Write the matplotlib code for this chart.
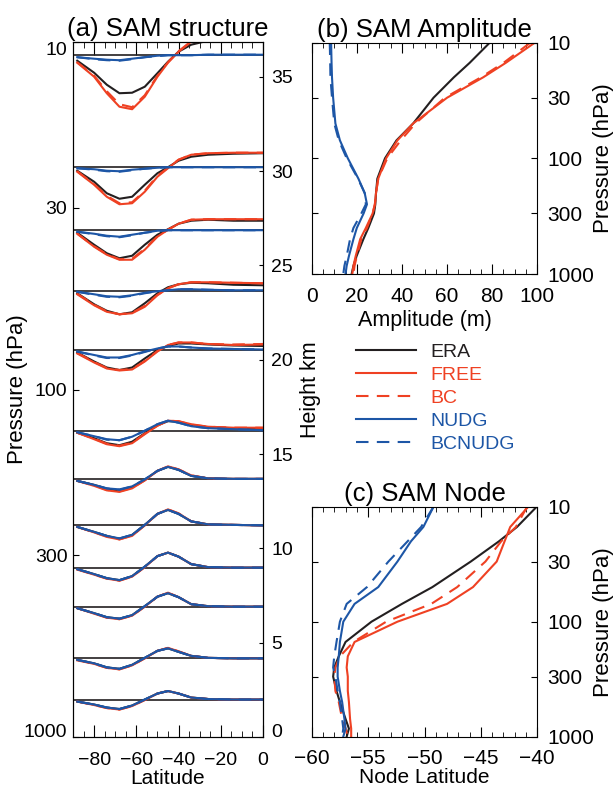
import matplotlib
matplotlib.use("Agg")
import matplotlib.pyplot as plt
from matplotlib.lines import Line2D
from matplotlib.ticker import MultipleLocator, NullLocator

plt.rcParams['font.family'] = ['Liberation Sans', 'DejaVu Sans']

# DATA

# (a) SAM structure: anomaly (m) vs latitude at each level (baseline height km)
LAT_A = [-88, -80, -74, -68, -62, -56, -50, -45, -40, -34, -26, -14, 0]
LEVEL_KM = [36.15, 30.21, 26.87, 23.66, 20.52, 16.24, 13.66, 11.22, 8.98, 6.91, 4.17, 1.96]

ERA_A = [
    [-11, -35, -59, -76, -75, -63, -36, -13, 7, 21, 29, 40, 46],
    [-7, -29, -52, -63, -59, -35, -12, 0, 13, 21, 25, 27, 28],
    [-5, -29, -46, -56, -51, -29, -9, 2, 13, 19, 21, 19, 19],
    [-5, -27, -40, -47, -43, -25, -5, 7, 13, 16, 15, 12, 11],
    [-5, -23, -35, -40, -35, -17, 0, 8, 13, 13, 11, 9, 8],
    [-4, -15, -25, -29, -22, -5, 11, 19, 18, 11, 7, 5, 5],
    [-3, -11, -19, -23, -16, -1, 17, 25, 19, 7, 2, 1, 1],
    [-3, -13, -21, -27, -19, 1, 23, 31, 23, 8, 2, 1, 0],
    [-3, -13, -21, -25, -17, 2, 23, 30, 22, 7, 1, 0, 0],
    [-3, -13, -21, -24, -17, 1, 20, 27, 19, 5, 1, 0, 0],
    [-3, -10, -18, -21, -13, 1, 15, 20, 13, 5, 1, 0, 0],
    [-3, -9, -15, -18, -11, 1, 13, 18, 13, 5, 2, 1, 1],
]
FREE_A = [
    [-15, -43, -76, -103, -108, -83, -43, -15, 7, 27, 44, 56, 60],
    [-9, -35, -59, -74, -72, -49, -19, -2, 15, 25, 28, 29, 29],
    [-7, -33, -49, -59, -59, -39, -13, 1, 13, 21, 22, 22, 22],
    [-7, -29, -42, -47, -45, -32, -9, 5, 13, 17, 17, 16, 15],
    [-7, -25, -37, -41, -39, -23, -3, 10, 15, 15, 12, 10, 11],
    [-4, -17, -27, -31, -25, -7, 10, 20, 19, 13, 8, 6, 6],
    [-3, -13, -22, -25, -18, -2, 17, 26, 20, 8, 2, 1, 1],
    [-3, -14, -23, -28, -21, 0, 23, 32, 24, 8, 2, 1, 0],
    [-4, -14, -22, -26, -18, 1, 23, 30, 22, 7, 1, 0, 0],
    [-3, -14, -22, -25, -18, 0, 20, 28, 19, 5, 1, 0, 0],
    [-4, -11, -19, -22, -14, 0, 15, 21, 14, 5, 1, 0, 0],
    [-3, -10, -16, -19, -12, 0, 13, 18, 13, 5, 2, 1, 1],
]
BC_A = [
    [-14, -41, -72, -98, -104, -80, -41, -14, 8, 28, 45, 57, 61],
    [-8, -34, -57, -72, -70, -47, -17, -1, 15, 25, 28, 29, 29],
    [-7, -32, -48, -58, -57, -37, -12, 1, 13, 21, 22, 22, 22],
    [-6, -28, -41, -47, -44, -30, -8, 5, 13, 17, 17, 16, 15],
    [-6, -24, -36, -40, -38, -22, -2, 10, 15, 15, 12, 11, 12],
    [-4, -16, -26, -30, -24, -6, 10, 20, 19, 12, 8, 6, 6],
    [-3, -12, -21, -24, -17, -2, 17, 26, 20, 8, 2, 1, 1],
    [-3, -14, -22, -28, -20, 0, 23, 32, 24, 8, 2, 1, 0],
    [-3, -14, -22, -26, -18, 1, 23, 30, 22, 7, 1, 0, 0],
    [-3, -13, -22, -25, -18, 0, 20, 28, 19, 5, 1, 0, 0],
    [-3, -11, -19, -22, -14, 0, 15, 21, 14, 5, 1, 0, 0],
    [-3, -10, -16, -19, -12, 0, 13, 18, 13, 5, 2, 1, 1],
]
NUDG_A = [
    [-4, -7, -9, -10, -7, -4, -1, 0, 0, 0, 1, 1, 1],
    [-2, -4, -7, -8, -5, -3, -1, 0, 0, 0, 0, 0, 0],
    [-3, -7, -11, -13, -9, -5, -1, 0, 0, 0, 0, 0, 0],
    [-2, -7, -11, -12, -9, -4, -1, 1, 3, 3, 2, 1, 1],
    [-3, -10, -15, -15, -10, -3, 3, 7, 7, 5, 3, 2, 1],
    [-3, -11, -17, -19, -12, 0, 13, 20, 16, 9, 5, 3, 1],
    [-3, -11, -18, -20, -14, 0, 17, 25, 19, 7, 2, 1, 1],
    [-3, -13, -21, -26, -19, 1, 23, 31, 23, 8, 2, 1, 0],
    [-3, -13, -21, -25, -17, 2, 23, 30, 22, 7, 1, 0, 0],
    [-3, -13, -21, -24, -17, 1, 20, 27, 19, 5, 1, 0, 0],
    [-3, -10, -18, -21, -13, 1, 15, 20, 13, 5, 1, 0, 0],
    [-3, -9, -15, -18, -11, 1, 13, 18, 13, 5, 2, 1, 1],
]
BCNUDG_A = [
    [-4, -8, -10, -11, -8, -4, -2, 0, 0, 0, 1, 1, 1],
    [-2, -5, -8, -9, -6, -3, -1, 0, 0, 0, 0, 0, 0],
    [-3, -8, -12, -14, -10, -5, -2, 0, 0, 0, 0, 0, 0],
    [-2, -8, -12, -13, -10, -5, -1, 1, 3, 3, 2, 1, 1],
    [-3, -11, -16, -16, -11, -4, 3, 7, 7, 5, 3, 2, 1],
    [-3, -11, -18, -19, -12, 0, 13, 20, 16, 9, 5, 3, 1],
    [-3, -11, -18, -21, -14, 0, 17, 25, 19, 7, 2, 1, 1],
    [-3, -13, -21, -26, -19, 1, 23, 31, 23, 8, 2, 1, 0],
    [-3, -13, -21, -25, -17, 2, 23, 30, 22, 7, 1, 0, 0],
    [-3, -13, -21, -24, -17, 1, 20, 27, 19, 5, 1, 0, 0],
    [-3, -10, -18, -21, -13, 1, 15, 20, 13, 5, 1, 0, 0],
    [-3, -9, -15, -18, -11, 1, 13, 18, 13, 5, 2, 1, 1],
]

# (b) amplitude (m) and (c) node latitude vs pressure (hPa)
P_LEV = [10, 15, 20, 30, 50, 70, 100, 150, 200, 250, 300, 400, 500, 700, 850, 1000]

AMP_ERA = [79, 70, 63, 54, 45, 37.6, 32.5, 29.1, 28.5, 28.2, 27.6, 25.1, 22.9, 19.9, 18.5, 17.7]
AMP_FREE = [99, 86, 76, 60, 45, 38, 33, 29.5, 28.5, 28, 27, 24, 21.5, 19.5, 18.5, 18]
AMP_BC = [97, 85, 75, 59, 46, 39.5, 33.5, 29.5, 28.5, 28, 27, 24.5, 22, 20, 19, 18.5]
AMP_NUDG = [8.6, 8.8, 9.0, 9.5, 10.5, 12.5, 16, 20.7, 23.5, 24.5, 23, 20, 18.5, 16.5, 15.5, 15]
AMP_BCNUDG = [8.0, 8.2, 8.3, 9, 10, 12, 15.5, 20.5, 23.5, 24, 22, 18.5, 17, 15.5, 14.5, 14]

NODE_ERA = [-40.05, -41.8, -43.4, -45.9, -49.3, -52.0, -54.7, -57.0, -57.6, -58.0, -58.1, -57.8, -57.5, -57.0, -56.7, -56.9]
NODE_FREE = [-40.8, -42.4, -42.9, -43.6, -45.7, -48.0, -52.4, -56.2, -56.8, -56.9, -56.8, -56.8, -56.7, -56.6, -56.5, -56.5]
NODE_BC = [-40.9, -41.9, -43.2, -44.6, -47.1, -49.4, -53.4, -56.3, -57.5, -57.9, -58.0, -57.9, -57.6, -57.3, -57.0, -56.8]
NODE_NUDG = [-49.2, -50.1, -51.2, -52.4, -54.1, -56.2, -57.2, -57.5, -57.6, -57.7, -57.7, -57.5, -57.3, -57.1, -57.0, -57.2]
NODE_BCNUDG = [-49.2, -50.3, -51.5, -53.2, -55.1, -56.9, -57.5, -57.8, -58.0, -58.1, -57.9, -57.7, -57.5, -57.3, -57.2, -57.3]

P_TICKS = [10, 30, 100, 300, 1000]
KM_TICKS = [0, 5, 10, 15, 20, 25, 30, 35]

# STYLE
BLACK = '#231f20'
RED = '#ef4123'
BLUE = '#1d56a6'
DASH = (6, 4)
KM_TOP = 36.85       # height km at 10 hPa on panel (a)
M_PER_KM = 37.7      # display scale of anomalies in panel (a)
LW = 1.5
FS = 14
FS_R = 15            # right-hand panels tick text
FS_T = 18.5

SERIES = [
    ("ERA", BLACK, None),
    ("FREE", RED, None),
    ("BC", RED, DASH),
    ("NUDG", BLUE, None),
    ("BCNUDG", BLUE, DASH),
]


def _line_kw(color, dashes):
    kw = dict(color=color, lw=LW)
    if dashes is not None:
        kw["dashes"] = dashes
    return kw


def _pressure_axis(ax):
    ax.set_yscale("log")
    ax.set_ylim(1000, 10)
    ax.set_yticks(P_TICKS)
    ax.set_yticklabels([str(p) for p in P_TICKS])
    ax.yaxis.set_minor_locator(NullLocator())
    labels = ax.get_yticklabels()
    labels[0].set_va("top")
    labels[-1].set_va("baseline")


fig = plt.figure(figsize=(6.14, 7.9), dpi=100)

# (a) SAM structure
axA = fig.add_axes([73 / 614, 1 - 737 / 790, 190 / 614, 695 / 790])
axA.set_xlim(-90, 0)
_pressure_axis(axA)
axA.set_xticks([-80, -60, -40, -20, 0])
axA.xaxis.set_minor_locator(MultipleLocator(5))
axA.tick_params(axis="x", which="major", direction="in", top=True, length=9, labelsize=FS, pad=11)
axA.tick_params(axis="x", which="minor", direction="in", top=True, length=4.5)
axA.tick_params(axis="y", which="major", direction="in", length=4, labelsize=FS, pad=4)
axA.set_xlabel("Latitude", fontsize=15, labelpad=0)
axA.set_ylabel("Pressure (hPa)", fontsize=16)
axA.yaxis.set_label_coords(-0.237, 0.5)
axA.set_title("(a) SAM structure", fontsize=FS_T, pad=4)

axK = axA.twinx()
axK.set_ylim(0, KM_TOP)
axK.set_yticks(KM_TICKS)
axK.tick_params(axis="y", direction="in", length=3, labelsize=FS, pad=6)
axK.get_yticklabels()[0].set_va("baseline")
axK.set_ylabel("Height km", fontsize=15.5)
axK.yaxis.set_label_coords(1.195, 0.5)

data_a = [ERA_A, FREE_A, BC_A, NUDG_A, BCNUDG_A]
for k, base in enumerate(LEVEL_KM):
    axK.axhline(base, color=BLACK, lw=1.2, zorder=1)
    for (name, color, dashes), vals in zip(SERIES, data_a):
        axK.plot(LAT_A, [base + v / M_PER_KM for v in vals[k]], zorder=2,
                 **_line_kw(color, dashes))

# (b) SAM amplitude
axB = fig.add_axes([311.7 / 614, 1 - 274 / 790, 225.6 / 614, 231.5 / 790])
for (name, color, dashes), vals in zip(SERIES, [AMP_ERA, AMP_FREE, AMP_BC, AMP_NUDG, AMP_BCNUDG]):
    axB.plot(vals, P_LEV, **_line_kw(color, dashes))
axB.set_xlim(0, 100)
_pressure_axis(axB)
axB.set_xticks([0, 20, 40, 60, 80, 100])
axB.xaxis.set_minor_locator(MultipleLocator(5))
axB.set_xlabel("Amplitude (m)", fontsize=15.5, labelpad=3)
axB.set_title("(b) SAM Amplitude", fontsize=FS_T, pad=4)

# (c) SAM node
axC = fig.add_axes([311.7 / 614, 1 - 736.7 / 790, 225.6 / 614, 230 / 790])
for (name, color, dashes), vals in zip(SERIES, [NODE_ERA, NODE_FREE, NODE_BC, NODE_NUDG, NODE_BCNUDG]):
    axC.plot(vals, P_LEV, **_line_kw(color, dashes))
axC.set_xlim(-60, -40)
_pressure_axis(axC)
axC.set_xticks([-60, -55, -50, -45, -40])
axC.xaxis.set_minor_locator(MultipleLocator(1))
axC.set_xlabel("Node Latitude", fontsize=15, labelpad=0)
axC.set_title("(c) SAM Node", fontsize=FS_T, pad=4)

for ax in (axB, axC):
    ax.tick_params(axis="x", which="major", direction="in", top=True, length=7, labelsize=FS_R, pad=9)
    ax.tick_params(axis="x", which="minor", direction="in", top=True, length=3.5)
    ax.tick_params(axis="y", which="major", direction="in", left=True, right=True,
                   labelleft=False, labelright=True, length=4, labelsize=FS_R, pad=7)
    ax.yaxis.set_label_position("right")
    ax.set_ylabel("Pressure (hPa)", fontsize=16)
    ax.yaxis.set_label_coords(1.245, 0.5)

handles = [Line2D([], [], **_line_kw(c, d)) for _, c, d in SERIES]
fig.legend(handles, [s[0] for s in SERIES], loc="upper left",
           bbox_to_anchor=(356 / 614, 1 - 343 / 790), frameon=False, fontsize=FS,
           handlelength=3.1, handletextpad=0.7, labelspacing=0.28,
           labelcolor="linecolor", borderpad=0, borderaxespad=0)

fig.savefig("out.png", dpi=100)
